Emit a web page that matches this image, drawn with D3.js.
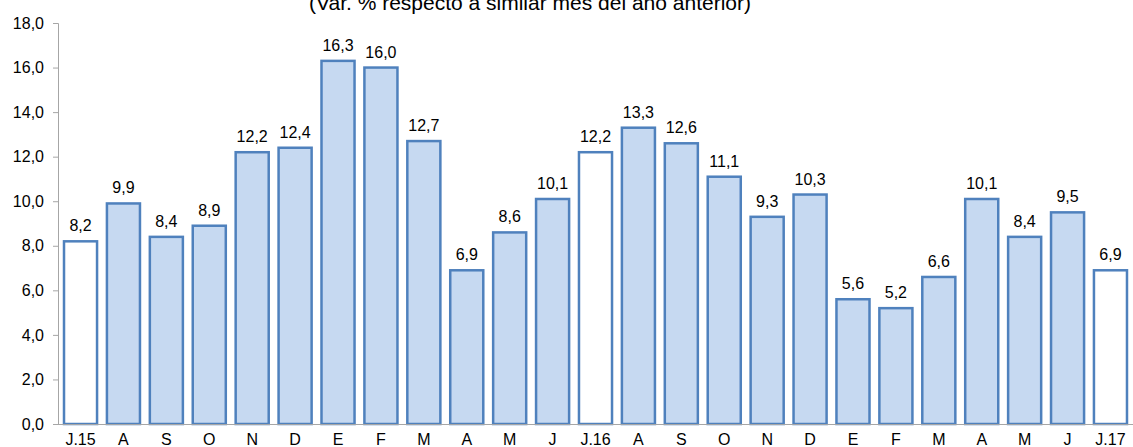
<!DOCTYPE html>
<html>
<head>
<meta charset="utf-8">
<script src="https://cdn.jsdelivr.net/npm/d3@7"></script>
<style>
  body { margin: 0; background: #fff; }
  text { font-family: "Liberation Sans", Arial, sans-serif; fill: #000; }
</style>
</head>
<body>
<div id="chart"></div>
<script>
// months (labels repeat, so bars are keyed by index)
var months = ["J.15", "A", "S", "O", "N", "D", "E", "F", "M", "A", "M", "J",
              "J.16", "A", "S", "O", "N", "D", "E", "F", "M", "A", "M", "J", "J.17"];
var values = [8.2, 9.9, 8.4, 8.9, 12.2, 12.4, 16.3, 16.0, 12.7, 6.9, 8.6, 10.1,
              12.2, 13.3, 12.6, 11.1, 9.3, 10.3, 5.6, 5.2, 6.6, 10.1, 8.4, 9.5, 6.9];
var yTicks = [0, 2, 4, 6, 8, 10, 12, 14, 16, 18];
var title = "(Var. % respecto a similar mes del año anterior)";

var svgWidth = 1133;
var svgHeight = 447;

var margin = { top: 23, right: 0, bottom: 23, left: 58 };
var width = svgWidth - margin.left - margin.right;
var height = svgHeight - margin.top - margin.bottom;

var svg = d3.select("#chart")
  .append("svg")
  .attr("width", svgWidth)
  .attr("height", svgHeight);

var chartGroup = svg.append("g")
  .attr("transform", `translate(${margin.left}, ${margin.top})`);

var fmt = function(v) { return d3.format(".1f")(v).replace(".", ","); };

// scales
var xScale = d3.scaleBand()
  .domain(d3.range(months.length))
  .range([0, width])
  .paddingInner(0.23)
  .paddingOuter(0.14);

var yScale = d3.scaleLinear()
  .domain([0, 18])
  .range([height, 0]);

// title (cut at the top edge as in the original)
svg.append("text")
  .attr("x", 530)
  .attr("y", 10)
  .attr("text-anchor", "middle")
  .attr("font-size", "21px")
  .text(title);

// y axis
var yAxis = d3.axisLeft(yScale)
  .tickValues(yTicks)
  .tickSize(5)
  .tickPadding(9)
  .tickFormat(fmt);

var yG = chartGroup.append("g").call(yAxis);
yG.select(".domain").attr("stroke", "#a6a6a6").attr("d", `M-5,0.5H0.5V${height}`);
yG.selectAll(".tick line").attr("stroke", "#a6a6a6");
yG.selectAll("text").attr("font-size", "16px").attr("font-family", "Liberation Sans, Arial, sans-serif");

// bars
chartGroup.selectAll(".bar")
  .data(values)
  .enter()
  .append("rect")
  .attr("class", "bar")
  .attr("x", (d, i) => xScale(i))
  .attr("y", d => yScale(d))
  .attr("width", xScale.bandwidth())
  .attr("height", d => height - yScale(d))
  .attr("fill", (d, i) => months[i].indexOf(".") > -1 ? "#ffffff" : "#c6d9f1")
  .attr("stroke", "#4f81bd")
  .attr("stroke-width", 2.5);

// x axis line drawn on top of the bar bases
chartGroup.append("line")
  .attr("x1", 0)
  .attr("x2", width)
  .attr("y1", height + 0.5)
  .attr("y2", height + 0.5)
  .attr("stroke", "#a6a6a6");

// x labels
chartGroup.selectAll(".xlabel")
  .data(months)
  .enter()
  .append("text")
  .attr("class", "xlabel")
  .attr("x", (d, i) => xScale(i) + xScale.bandwidth() / 2)
  .attr("y", height + 21)
  .attr("text-anchor", "middle")
  .attr("font-size", "16px")
  .text(d => d);

// value labels
chartGroup.selectAll(".vlabel")
  .data(values)
  .enter()
  .append("text")
  .attr("class", "vlabel")
  .attr("x", (d, i) => xScale(i) + xScale.bandwidth() / 2)
  .attr("y", d => yScale(d) - 10)
  .attr("text-anchor", "middle")
  .attr("font-size", "16px")
  .text(d => fmt(d));
</script>
</body>
</html>
